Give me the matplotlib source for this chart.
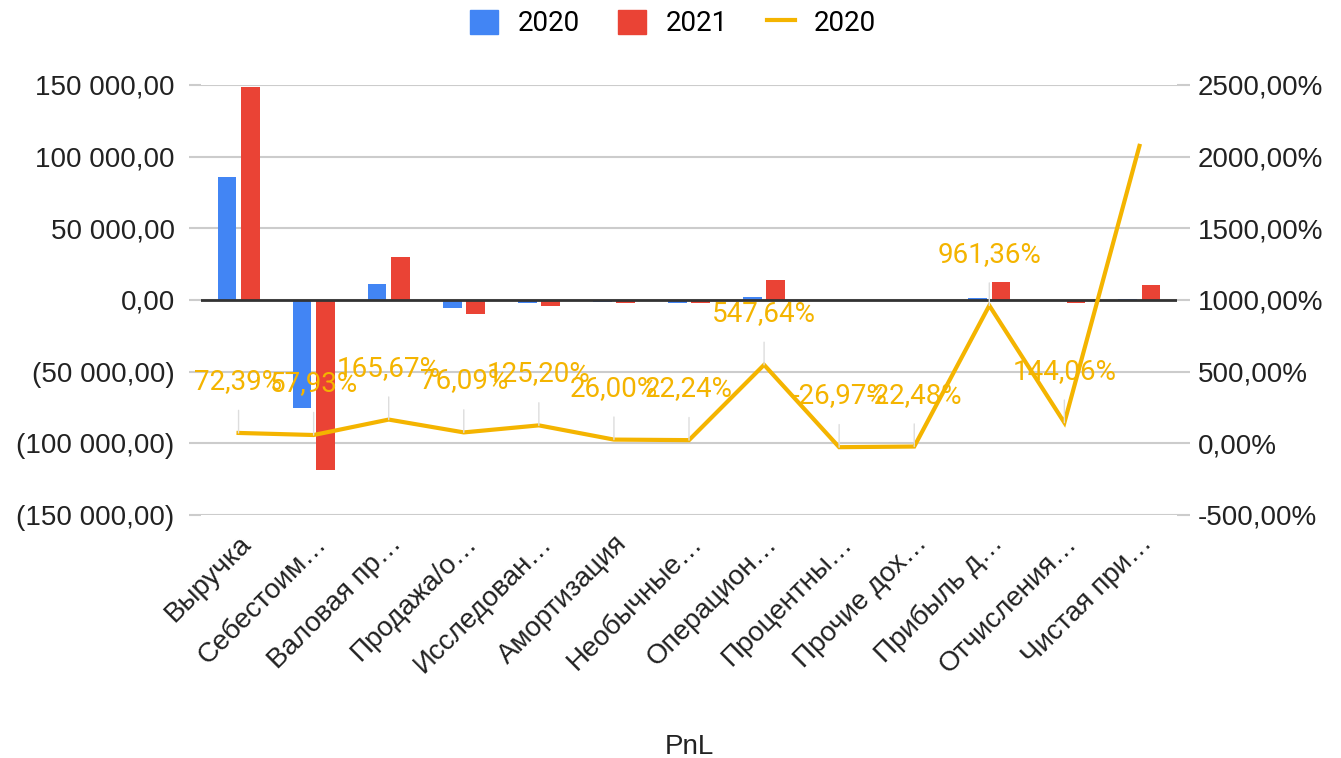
import numpy as np
import matplotlib
matplotlib.use("Agg")
import matplotlib.pyplot as plt
from matplotlib.ticker import FixedLocator, FuncFormatter

# PnL categories (truncated like in the sheet)
categories = ["Выручка", "Себестоим…", "Валовая пр…", "Продажа/о…", "Исследован…",
              "Амортизация", "Необычные…", "Операцион…", "Процентны…", "Прочие дох…",
              "Прибыль д…", "Отчисления…", "Чистая при…"]

values_2020 = [85900, -75300, 11250, -5400, -1800, -1700, -1800, 2160, -350, 300, 1160, -980, 490]
values_2021 = [148600, -118900, 29900, -9510, -4050, -2150, -2200, 14000, -256, 233, 12310, -2390, 10650]
growth_pct = [72.39, 57.93, 165.67, 76.09, 125.20, 26.00, 22.24, 547.64, -26.97, -22.48, 961.36, 144.06, 2075.0]
show_label = [True] * 12 + [False]

left_ticks = [-150000, -100000, -50000, 0, 50000, 100000, 150000]
right_ticks = [-500, 0, 500, 1000, 1500, 2000, 2500]

BLUE = "#4285F4"
RED = "#EA4335"
YELLOW = "#F4B400"
GRID = "#cccccc"


def money_fmt(v, pos=None):
    s = f"{abs(v):,.2f}".replace(",", " ").replace(".", ",")
    return f"({s})" if v < 0 else s


def pct_fmt(v, pos=None):
    return f"{v:.2f}%".replace(".", ",")


fig = plt.figure(figsize=(13.41, 7.58), dpi=100)
ax = fig.add_axes([0.1499, 0.3206, 0.7278, 0.5673])
ax2 = ax.twinx()

x = np.arange(len(categories))
w = 0.25
ax.bar(x - 0.155, values_2020, width=w, color=BLUE, label="2020", zorder=3)
ax.bar(x + 0.155, values_2021, width=w, color=RED, label="2021", zorder=3)
ax.axhline(0, color="#333333", lw=2, zorder=4)

ax.set_xlim(-0.5, len(categories) - 0.5)
ax.set_ylim(-150000, 150000)
ax.yaxis.set_major_locator(FixedLocator(left_ticks))
ax.yaxis.set_major_formatter(FuncFormatter(money_fmt))
ax.grid(axis="y", color=GRID, lw=1.5, zorder=0)
ax.set_axisbelow(True)

ax2.set_ylim(-500, 2500)
ax2.yaxis.set_major_locator(FixedLocator(right_ticks))
ax2.yaxis.set_major_formatter(FuncFormatter(pct_fmt))

line, = ax2.plot(x, growth_pct, color=YELLOW, lw=3, label="2020", zorder=5,
                 solid_joinstyle="miter")

for xi, yi, show in zip(x, growth_pct, show_label):
    if not show:
        continue
    ax2.annotate(pct_fmt(yi), xy=(xi, yi), xytext=(0, 37), textcoords="offset points",
                 ha="center", va="center", color=YELLOW, fontsize=20, family="Roboto",
                 arrowprops=dict(arrowstyle="-", color="#dddddd", lw=1,
                                 shrinkA=9, shrinkB=0), zorder=6)

for a in (ax, ax2):
    for sp in a.spines.values():
        sp.set_visible(False)

ax.tick_params(axis="y", length=9, color=GRID, width=1.5, pad=10,
               labelsize=20, labelcolor="#222222")
ax2.tick_params(axis="y", length=9, color=GRID, width=1.5, pad=6,
                labelsize=20, labelcolor="#222222")
ax.set_xticks(x)
ax.set_xticklabels(categories, rotation=45, ha="right", va="top",
                   rotation_mode="anchor", fontsize=20, color="#222222")
ax.tick_params(axis="x", length=0, pad=11)
for lab in ax.get_yticklabels() + ax2.get_yticklabels() + ax.get_xticklabels():
    lab.set_family("Liberation Sans")

ax.set_xlabel("PnL", fontsize=20, family="Liberation Sans", color="#222222", labelpad=40)

handles = [plt.Rectangle((0, 0), 1, 1, color=BLUE), plt.Rectangle((0, 0), 1, 1, color=RED), line]
fig.legend(handles, ["2020", "2021", "2020"], loc="center", bbox_to_anchor=(0.502, 0.969),
           ncol=3, frameon=False, prop={"family": "Roboto", "size": 20},
           handlelength=1.0, handleheight=1.0, columnspacing=1.4, handletextpad=0.7)

fig.savefig("out.png", dpi=100)
